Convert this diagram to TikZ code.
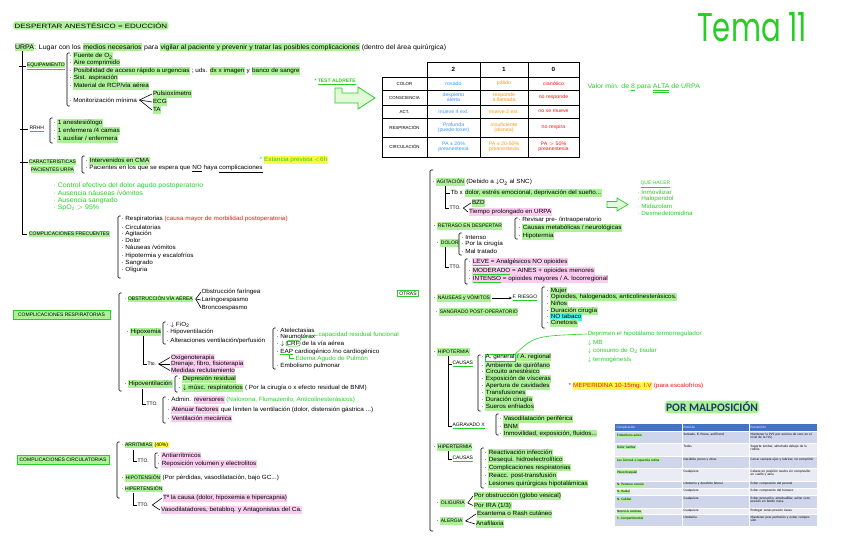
\documentclass[tikz,border=0pt]{standalone}
\usepackage{fontspec}
\setmainfont{Liberation Sans}[FakeStretch=1.06]
\newfontfamily\upfont{Liberation Sans}
\newfontfamily\temafont{Poppins}
\newfontfamily\tabfont{Carlito}
\usetikzlibrary{arrows.meta}
\definecolor{hlg}{RGB}{172,240,152}
\definecolor{hlp}{RGB}{250,205,240}
\definecolor{hly}{RGB}{255,248,70}
\definecolor{hlc}{RGB}{70,240,235}
\definecolor{tg}{RGB}{40,205,40}
\definecolor{tb}{RGB}{60,150,255}
\definecolor{to}{RGB}{255,150,20}
\definecolor{tr}{RGB}{250,20,20}
\definecolor{mbl}{RGB}{31,56,100}
\definecolor{thead}{RGB}{68,114,196}
\definecolor{trowa}{RGB}{207,213,234}
\definecolor{trowb}{RGB}{233,235,245}
\definecolor{arrfill}{RGB}{225,250,215}
\newcommand\myfs{\fontsize{6}{6.6}\selectfont}
\newcommand\myfu{\upfont\fontsize{5}{6}\selectfont}
\newcommand\myft{\tabfont\fontsize{3.4}{3.9}\selectfont}
\newcommand\hG[1]{{\setlength{\fboxsep}{0.5pt}\colorbox{hlg}{\vphantom{Ág}#1}}}
\newcommand\hP[1]{{\setlength{\fboxsep}{0.5pt}\colorbox{hlp}{\vphantom{Ág}#1}}}
\newcommand\hY[1]{{\setlength{\fboxsep}{0.5pt}\colorbox{hly}{\vphantom{Ág}#1}}}
\newcommand\hC[1]{{\setlength{\fboxsep}{0.5pt}\colorbox{hlc}{\vphantom{Ág}#1}}}
\newcommand\hGu[1]{\hG{\myfu #1}}
\newcommand\gul[1]{{\color{tg}\underline{\textcolor{black}{#1}}}}
\newcommand\mydn{$\downarrow$}
\newcommand\mybrk[3]{\draw[brkl] ({#1+2.5},#2) -- (#1,#2) -- (#1,#3) -- ({#1+2.5},#3);}
\begin{document}
\begin{tikzpicture}[x=1pt,y=-1pt,
  tx/.style={anchor=west,inner sep=0.3pt,font=\myfs},
  upt/.style={anchor=west,inner sep=0.3pt,font=\myfu},
  gtx/.style={tx,text=tg},
  ln/.style={line width=0.6pt},
  brkl/.style={line width=0.6pt,rounded corners=1.2pt},
  gbox/.style={draw=tg,line width=0.9pt,inner sep=1.5pt,font=\myfu},
  cellt/.style={align=center,inner sep=0pt,font=\fontsize{5}{5.4}\selectfont},
  tcell/.style={anchor=north west,inner sep=0pt,text width=63pt,align=left,font=\myft},
]
\useasboundingbox (0,0) rectangle (848,549);
\fill[white] (0,0) rectangle (848,549);

% ---------- title and definition
\node[upt,fill=hlg,rounded corners=3pt,inner sep=1.5pt,font=\upfont\fontsize{6.2}{7}\selectfont] (title) at (13,25.5) {\scalebox{1.28}[1]{DESPERTAR ANESTÉSICO = EDUCCIÓN}};
\node[tx,font=\fontsize{6.6}{7}\selectfont] (urpa) at (14,47) {\hG{URPA}: Lugar con los \hG{medios necesarios} para \hG{vigilar al paciente y prevenir y tratar las posibles complicaciones} (dentro del área quirúrgica)};
\node[anchor=south west,inner sep=0pt,text=tg] (tema) at (697,42) {\resizebox{110pt}{29pt}{\temafont Tema 11}};

% ---------- left tree
\draw[ln] (22,51) -- (22,234) -- (27,234);
\draw[ln] (19,66) -- (26,66);
\draw[ln] (20,129) -- (28,129);
\draw[ln] (20,162) -- (28,162);
\node[upt] (equip) at (26,66) {\gul{\hG{EQUIPAMIENTO}}};
\mybrk{67}{53}{106}
\node[tx] (e1) at (69,56) {· \hG{Fuente de O\textsubscript{2}}};
\node[tx] (e2) at (69,62.5) {· \hG{Aire comprimido}};
\node[tx] (e3) at (69,71) {· \hG{Posibilidad de acceso rápido a urgencias} ; uds. \hG{dx x imagen} y \hG{banco de sangre}};
\node[tx] (e4) at (69,78) {· \hG{Sist. aspiración}};
\node[tx] (e5) at (69,86) {· \hG{Material de RCP/vía aérea}};
\node[tx] (e6) at (69,100) {· Monitorización mínima};
\node[tx] (pulsi) at (152,94) {\hG{Pulsioxímetro}};
\node[tx] (ecg) at (152,102) {\hG{ECG}};
\node[tx] (ta) at (152,110) {\hG{TA}};
\coordinate (m0) at ([xshift=2pt]e6.east);
\draw[ln] (pulsi.west) -- (m0) -- (ta.west);
\draw[ln] (m0) -- (ecg.west);

\node[upt] (rrhh) at (29,129) {\gul{RRHH}};
\mybrk{50}{118}{143}
\node[tx] (r1) at (53,123) {· \hG{1 anestesiólogo}};
\node[tx] (r2) at (53,131) {· \hG{1 enfermera /4 camas}};
\node[tx] (r3) at (53,139) {· \hG{1 auxiliar / enfermera}};

\node[upt] (carac) at (28,162) {\hG{CARACTERÍSTICAS}};
\node[upt] (pacu) at (30,169.5) {\hG{PACIENTES URPA}};
\mybrk{82}{156}{173}
\node[tx] (c1) at (85,161) {· \hG{Intervenidos en CMA}};
\node[tx] (c2) at (85,169) {· Pacientes en los que se espera que \underline{NO} haya \underline{complicaciones}};
\node[gtx] (estancia) at (259,160) {* \hY{Estancia prevista $<$6h}};

\node[gtx,font=\fontsize{6.6}{7}\selectfont] (g1) at (53,186) {· Control efectivo del dolor agudo postoperatorio};
\node[gtx,font=\fontsize{6.6}{7}\selectfont] (g2) at (53,193.5) {· Ausencia náuseas /vómitos};
\node[gtx,font=\fontsize{6.6}{7}\selectfont] (g3) at (53,200.5) {· Ausencia sangrado};
\node[gtx,font=\fontsize{6.6}{7}\selectfont] (g4) at (53,208) {· SpO\textsubscript{2} $>$ 95\%};

\node[upt] (cfrec) at (28,234) {\hG{COMPLICACIONES FRECUENTES}};
\mybrk{118}{216}{278}
\node[tx] (f1) at (121,219) {· Respiratorias \textcolor{tr}{(causa mayor de morbilidad postoperatoria)}};
\node[tx] (f2) at (121,227) {· Circulatorias};
\node[tx] (f3) at (121,234) {· Agitación};
\node[tx] (f4) at (121,240.5) {· Dolor};
\node[tx] (f5) at (121,247.5) {· Náuseas /vómitos};
\node[tx] (f6) at (121,256) {· Hipotermia y escalofríos};
\node[tx] (f7) at (121,263) {· Sangrado};
\node[tx] (f8) at (121,270) {· Oliguria};

% ---------- respiratory complications
\node[gbox,fill=hlg,minimum width=97pt,minimum height=9pt] (cresp) at (61.5,315) {COMPLICACIONES RESPIRATORIAS};
\mybrk{119}{293}{391}
\node[upt] (obst) at (124,299) {· \hGu{OBSTRUCCIÓN VÍA AÉREA}};
\node[tx] (o1) at (201,292) {Obstrucción faríngea};
\node[tx] (o2) at (201,300) {Laringoespasmo};
\node[tx] (o3) at (201,308) {Broncoespasmo};
\coordinate (m1) at ([xshift=2pt]obst.east);
\draw[ln] (o1.west) -- (m1) -- (o3.west);
\draw[ln] (m1) -- (o2.west);

\node[tx] (hipox) at (126,332) {· \hG{Hipoxemia}};
\mybrk{163}{322}{344}
\node[tx] (h1) at (166,325) {· \mydn\ FiO\textsubscript{2}};
\node[tx] (h2) at (166,332) {· Hipoventilación};
\node[tx] (h3) at (166,341) {· Alteraciones ventilación/perfusión};
\draw[ln] (143,336) -- (143,364) -- (147,364);
\node[upt] (tto0) at (147,364) {Tto.};
\coordinate (m2) at ([xshift=2pt]tto0.east);
\node[tx] (p1) at (170,357.5) {\hP{Oxigenoterapia}};
\node[tx] (p2) at (170,364) {\hP{Drenaje, fibro, fisioterapia}};
\node[tx] (p3) at (170,370.5) {\hP{Medidas reclutamiento}};
\draw[ln] (p1.west) -- (m2) -- (p3.west);
\draw[ln] (m2) -- (p2.west);

\mybrk{273}{328}{369}
\node[tx] (v1) at (276,330) {· Atelectasias};
\node[tx] (v2) at (276,336.5) {· Neumotórax};
\node[tx] (v3a) at (276,344) {· \mydn};
\node[anchor=base west,draw=tg,line width=0.6pt,rounded corners=2.5pt,inner sep=0.6pt,font=\myfs] (crf) at ([xshift=1pt]v3a.base east) {CRF};
\node[anchor=base west,inner sep=0.3pt,font=\myfs] (v3b) at ([xshift=1pt]crf.base east) {de la vía aérea};
\node[gtx] (crftxt) at (318,335) {capacidad residual funcional};
\draw[tg,line width=0.6pt] (crf.north east) .. controls (300,337) .. (crftxt.west);
\node[tx] (v4) at (276,352) {· {\color{tg}\underline{\textcolor{black}{EAP}}} cardiogénico /no cardiogénico};
\draw[tg,line width=0.6pt] (289,354.5) -- (289,358.5) -- (294,358.5);
\node[gtx] (eap) at (295,358.5) {Edema Agudo de Pulmón};
\node[tx] (v5) at (276,366) {· Embolismo pulmonar};

\node[tx] (hipov) at (124,384) {· \hG{Hipoventilación}};
\mybrk{175}{376}{392}
\node[tx] (hv1) at (178,379) {· \hG{Depresión residual}};
\node[tx] (hv2) at (178,388) {· \hG{\mydn\ músc. respiratorios} ( Por la cirugía o x efecto residual de BNM)};
\draw[ln] (142,389) -- (142,404) -- (146,404);
\node[upt] (tto2) at (146,404) {TTO.};
\mybrk{163}{397}{423}
\node[tx] (t1) at (167,400) {· Admin. \hP{reversores} \textcolor{tg}{(Naloxona, Flumazenilo, Anticolinesterásicos)}};
\node[tx] (t2) at (167,410) {· \hP{Atenuar factores} que limiten la ventilación (dolor, distensión gástrica ...)};
\node[tx] (t3) at (167,418.5) {· \hP{Ventilación mecánica}};

% ---------- circulatory complications
\node[gbox,fill=hlg,minimum width=92pt,minimum height=9pt] (ccirc) at (63,459.5) {COMPLICACIONES CIRCULATORIAS};
\mybrk{117}{442}{498}
\node[upt] (arr) at (121,445) {· \hGu{ARRITMIAS} \hY{(40\%)}};
\draw[ln] (133,450) -- (133,461) -- (137,461);
\node[upt] (tto3) at (137,461) {TTO.};
\mybrk{155}{453}{468}
\node[tx] (ar1) at (157,456) {· \hP{Antiarrítmicos}};
\node[tx] (ar2) at (157,464) {· \hP{Reposición volumen y electrolitos}};
\node[tx] (hipot) at (121,478) {· \hGu{HIPOTENSIÓN} (Por pérdidas, vasodilatación, bajo GC...)};
\node[upt] (hipert) at (121,489) {· \hGu{HIPERTENSIÓN}};
\draw[ln] (133,493) -- (133,505) -- (137,505);
\node[upt] (tto4) at (137,505) {TTO.};
\coordinate (m3) at ([xshift=3pt]tto4.east);
\node[tx] (ht1) at (162,498) {\hP{Tº la causa (dolor, hipoxemia e hipercapnia)}};
\node[tx] (ht2) at (160,510) {\hP{Vasodilatadores, betabloq. y Antagonistas del Ca.}};
\draw[ln] (ht1.west) -- (m3) -- (ht2.west);

% ---------- OTRAS
\node[gbox,fill=white] (otras) at (408,293.5) {OTRAS};
\draw[brkl] (433,170) -- (430,170) -- (430,531) -- (433,531);

\node[tx] (agit) at (432,182) {· \hGu{AGITACIÓN} (Debido a \mydn O\textsubscript{2} al SNC)};
\draw[ln] (445,186) -- (445,208) -- (449,208);
\draw[ln] (445,193) -- (450,193);
\node[tx] (tbx) at (450,193) {Tb x \hG{dolor, estrés emocional, deprivación del sueño...}};
\node[upt] (tto5) at (449,208) {TTO.};
\coordinate (m4) at ([xshift=2pt]tto5.east);
\node[tx] (bzd) at (471,203) {\hG{BZD}};
\node[tx] (tprol) at (468,212) {\hP{Tiempo prolongado en URPA}};
\draw[ln] (bzd.west) -- (m4) -- (tprol.west);
\draw[tg,line width=0.7pt,fill=arrfill] (607,201.5) -- (617,201.5) -- (617,198) -- (628,204.5) -- (617,211) -- (617,207.5) -- (607,207.5) -- cycle;
\node[gtx,font=\myfu] (que) at (640,184) {\underline{QUÉ HACER}};
\node[gtx] (q1) at (637,192) {· Inmovilizar};
\node[gtx] (q2) at (637,199) {· Haloperidol};
\node[gtx] (q3) at (637,206) {· Midazolam};
\node[gtx] (q4) at (637,213) {· Dexmedetomidina};

\node[tx] (retr) at (433,226) {· \hGu{RETRASO EN DESPERTAR}};
\mybrk{515}{218}{239}
\node[tx] (re1) at (518,220) {· Revisar pre- /intraoperatorio};
\node[tx] (re2) at (518,228) {· \hG{Causas metabólicas / neurológicas}};
\node[tx] (re3) at (518,236) {· \hG{Hipotermia}};

\node[tx] (dolor) at (436,243) {· \hGu{DOLOR}};
\mybrk{459}{233}{255}
\node[tx] (d1) at (461,237) {· Intenso};
\node[tx] (d2) at (461,244) {· Por la cirugía};
\node[tx] (d3) at (461,251) {· Mal tratado};
\draw[ln] (445,247) -- (445,267) -- (449,267);
\node[upt] (tto6) at (449,267) {TTO.};
\mybrk{465}{259}{284}
\node[tx] (dl1) at (468,262) {· \hP{\gul{LEVE} = Analgésicos NO opioides}};
\node[tx] (dl2) at (468,271) {· \hP{\gul{MODERADO} = AINES + opioides menores}};
\node[tx] (dl3) at (468,279) {· \hP{\gul{INTENSO} = opioides mayores / A. locorregional}};

\node[tx] (nau) at (433,298) {· \hGu{NÁUSEAS y VÓMITOS}};
\node[upt] (fries) at (512,298) {\gul{F. RIESGO}};
\draw[ln,-{Stealth[length=3pt,width=2.5pt]}] ([xshift=1pt]nau.east) -- (fries.west);
\mybrk{542}{287}{328}
\node[tx] (n1) at (546,290.5) {· \hG{Mujer}};
\node[tx] (n2) at (546,297) {· \hG{Opioides, halogenados, anticolinesterásicos.}};
\node[tx] (n3) at (546,304) {· \hG{Niños}};
\node[tx] (n4) at (546,311) {· \hG{Duración cirugía}};
\node[tx] (n5) at (546,317) {· \hC{NO tabaco}};
\node[tx] (n6) at (546,323) {· \hG{Cinetosis}};
\node[tx] (sang) at (435,312) {· \hGu{SANGRADO POST-OPERATORIO}};

\node[tx] (hipo) at (433,352) {· \hGu{HIPOTERMIA}};
\draw[ln] (448,356) -- (448,426) -- (452,426);
\draw[ln] (448,364) -- (452,364);
\node[upt] (caus1) at (452,364) {\gul{CAUSAS}};
\mybrk{478}{355}{411}
\node[tx] (hc1a) at (481,358) {·};
\node[anchor=base west,draw=tg,line width=0.6pt,inner sep=0.6pt,font=\myfs] (agen) at ([xshift=0.5pt]hc1a.base east) {A. general};
\node[anchor=base west,inner sep=0.3pt,font=\myfs] (hc1b) at ([xshift=0.5pt]agen.base east) {\hG{/ A. regional}};
\node[tx] (hc2) at (481,365.5) {· \hG{Ambiente de quirófano}};
\node[tx] (hc3) at (481,372) {· \hG{Circuito anestésico}};
\node[tx] (hc4) at (481,379) {· \hG{Exposición de vísceras}};
\node[tx] (hc5) at (481,386) {· \hG{Apertura de cavidades}};
\node[tx] (hc6) at (481,393) {· \hG{Transfusiones}};
\node[tx] (hc7) at (481,400) {· \hG{Duración cirugía}};
\node[tx] (hc8) at (481,407) {· \hG{Sueros enfriados}};
\node[gtx] (dep) at (587,334) {Deprimen el hipotálamo termorregulador};
\node[gtx] (dep2) at (587,343) {\mydn\ MB};
\node[gtx] (dep3) at (587,351) {\mydn\ consumo de O\textsubscript{2} tisular};
\node[gtx] (dep4) at (587,360) {\mydn\ termogénesis};
\draw[tg,line width=0.6pt] (agen.north east) .. controls (535,336) .. (dep.west);
\node[tx,text=tr] (mep) at (568,386) {* \hY{MEPERIDINA 10-15mg. I.V} (para escalofríos)};

\node[upt] (agrav) at (452,426) {\gul{AGRAVADO X}};
\mybrk{496}{414}{435}
\node[tx] (ag1) at (499,419) {· \hG{Vasodilatación periférica}};
\node[tx] (ag2) at (499,426.5) {· \hG{BNM}};
\node[tx] (ag3) at (499,433.5) {· \hG{Inmovilidad, exposición, fluidos...}};

\node[tx] (hiper) at (433,447) {· \hGu{HIPERTERMIA}};
\draw[ln] (448,451) -- (448,459) -- (452,459);
\node[upt] (caus2) at (452,459) {\gul{CAUSAS}};
\mybrk{481}{448}{488}
\node[tx] (hp1) at (484,453) {· \hG{Reactivación infección}};
\node[tx] (hp2) at (484,459.5) {· \hG{Desequi. hidroelectrolítico}};
\node[tx] (hp3) at (484,467.5) {· \hG{Complicaciones respiratorias}};
\node[tx] (hp4) at (484,476) {· \hG{Reacc. post-transfusión}};
\node[tx] (hp5) at (484,484) {· \hG{Lesiones quirúrgicas hipotalámicas}};

\node[tx] (olig) at (436,503) {· \hGu{OLIGURIA}};
\coordinate (m5) at ([xshift=2pt]olig.east);
\node[tx] (ol1) at (473,496) {\hG{Por obstrucción (globo vesical)}};
\node[tx] (ol2) at (473,505.5) {\hG{Por IRA (1/3)}};
\draw[ln] (ol1.west) -- (m5) -- (ol2.west);
\node[tx] (aler) at (436,521) {· \hGu{ALERGIA}};
\coordinate (m6) at ([xshift=2pt]aler.east);
\node[tx] (al1) at (476,514) {\hG{Exantema o Rash cutáneo}};
\node[tx] (al2) at (475,524) {\hG{Anafilaxia}};
\draw[ln] (al1.west) -- (m6) -- (al2.west);

% ---------- Aldrete test
\node[gtx,font=\bfseries\myfu] (aldrete) at (314,82) {* \underline{TEST ALDRETE}};
\draw[tg,line width=0.8pt,fill=arrfill] (335,88) -- (342,88) -- (342,93) -- (358,93) -- (358,87) -- (375,98) -- (358,109) -- (358,103) -- (335,103) -- cycle;
\begin{scope}[line width=0.9pt]
\draw (427,62) -- (579,62) -- (579,77);
\draw (382,77) rectangle (579,157);
\foreach \xx in {427,480,528} \draw (\xx,62) -- (\xx,157);
\foreach \yy in {90,105,118,137} \draw (382,\yy) -- (579,\yy);
\end{scope}
\node[cellt,font=\bfseries\myfs] (h2) at (453.5,69.5) {2};
\node[cellt,font=\bfseries\myfs] (h1) at (504,69.5) {1};
\node[cellt,font=\bfseries\myfs] (h0) at (553.5,69.5) {0};
\node[cellt,font=\upfont\fontsize{4.4}{5}\selectfont] (l1) at (404.5,83.5) {COLOR};
\node[cellt,font=\upfont\fontsize{4.4}{5}\selectfont] (l2) at (404.5,97.5) {CONSCIENCIA};
\node[cellt,font=\upfont\fontsize{4.4}{5}\selectfont] (l3) at (404.5,111.5) {ACT.};
\node[cellt,font=\upfont\fontsize{4.4}{5}\selectfont] (l4) at (404.5,127.5) {RESPIRACIÓN};
\node[cellt,font=\upfont\fontsize{4.4}{5}\selectfont] (l5) at (404.5,147) {CIRCULACIÓN};
\node[cellt,text=tb] (b1) at (453.5,83.5) {rosado};
\node[cellt,text=tb] (b2) at (453.5,97.5) {despierto\\alerta};
\node[cellt,text=tb] (b3) at (453.5,111.5) {mueve 4 ext.};
\node[cellt,text=tb] (b4) at (453.5,127.5) {Profunda\\(puede toser)};
\node[cellt,text=tb] (b5) at (453.5,147) {PA ± 20\%\\preanestesia};
\node[cellt,text=to] (o1c) at (504,83.5) {pálido};
\node[cellt,text=to] (o2c) at (504,97.5) {responde\\a llamada};
\node[cellt,text=to] (o3c) at (504,111.5) {mueve 2 ext.};
\node[cellt,text=to] (o4c) at (504,127.5) {insuficiente\\(disnea)};
\node[cellt,text=to] (o5c) at (504,147) {PA ± 20-50\%\\preanestesia};
\node[cellt,text=tr] (r1c) at (553.5,83.5) {cianótico};
\node[cellt,text=tr] (r2c) at (553.5,97.5) {no responde};
\node[cellt,text=tr] (r3c) at (553.5,111.5) {no se mueve};
\node[cellt,text=tr] (r4c) at (553.5,127.5) {no respira};
\node[cellt,text=tr] (r5c) at (553.5,147) {PA $>$ 50\%\\preanestesia};
\node[gtx,font=\fontsize{6.6}{7}\selectfont] (valor) at (587,88) {Valor mín. de \underline{8} para $\underline{\underline{\hbox{ALTA}}}$ de URPA};

% ---------- Malposicion table
\node[anchor=center,inner sep=1.5pt,fill=hlg,rounded corners=4pt,text=mbl,font=\tabfont\bfseries\fontsize{11.5}{12}\selectfont] (malpos) at (712,407) {POR MALPOSICIÓN};
\fill[thead] (615,424) rectangle (817,431);
\fill[trowa] (615,431) rectangle (817,443);
\fill[trowb] (615,443) rectangle (817,456);
\fill[trowa] (615,456) rectangle (817,468);
\fill[trowb] (615,468) rectangle (817,481);
\fill[trowa] (615,481) rectangle (817,488);
\fill[trowb] (615,488) rectangle (817,495);
\fill[trowa] (615,495) rectangle (817,508);
\fill[trowb] (615,508) rectangle (817,514);
\fill[trowa] (615,514) rectangle (817,526);
\foreach \yy in {431,443,456,468,481,488,495,508,514} \draw[white,line width=0.4pt] (615,\yy) -- (817,\yy);
\foreach \xx in {682,749} \draw[white,line width=0.4pt] (\xx,424) -- (\xx,526);
\node[tcell,text=white] (th1) at (616.5,425.5) {Complicación};
\node[tcell,text=white] (th2) at (683.5,425.5) {Posición};
\node[tcell,text=white] (th3) at (750.5,425.5) {Prevención};
\node[tcell] (a1) at (616.5,432.5) {\hG{Embolismo aéreo}};
\node[tcell] (a2) at (683.5,432.5) {Sentado, Ei Prono, antiTrend};
\node[tcell] (a3) at (750.5,432.5) {Mantener la PVC por encima de cero en el nivel de la H.Q.};
\node[tcell] (b1t) at (616.5,444.5) {\hG{Dolor lumbar}};
\node[tcell] (b2t) at (683.5,444.5) {Todas};
\node[tcell] (b3t) at (750.5,444.5) {Soporte lumbar, almohada debajo de la rodilla};
\node[tcell] (c1t) at (616.5,457.5) {\hG{Les Corneal o isquemia retina}};
\node[tcell] (c2t) at (683.5,457.5) {Decúbito prono y otras};
\node[tcell] (c3t) at (750.5,457.5) {Cerrar siempre ojos y lubricar, no comprimir};
\node[tcell] (d1t) at (616.5,469.5) {\hG{Plexo braquial}};
\node[tcell] (d2t) at (683.5,469.5) {Cualquiera};
\node[tcell] (d3t) at (750.5,469.5) {Cabeza en posición neutra sin compresión en cuello y axila};
\node[tcell] (e1t) at (616.5,482.3) {\hG{N. Peroneo común}};
\node[tcell] (e2t) at (683.5,482.3) {Litotomía y decúbito lateral};
\node[tcell] (e3t) at (750.5,482.3) {Evitar compresión del peroné};
\node[tcell] (f1t) at (616.5,489.3) {\hG{N. Radial}};
\node[tcell] (f2t) at (683.5,489.3) {Cualquiera};
\node[tcell] (f3t) at (750.5,489.3) {Evitar compresión del húmero};
\node[tcell] (g1t) at (616.5,496.5) {\hG{N. Cubital}};
\node[tcell] (g2t) at (683.5,496.5) {Cualquiera};
\node[tcell] (g3t) at (750.5,496.5) {Evitar pronación, almohadillar, evitar compresión en borde mesa};
\node[tcell] (h1t) at (616.5,509.3) {\hG{Necrosis cutánea}};
\node[tcell] (h2t) at (683.5,509.3) {Cualquiera};
\node[tcell] (h3t) at (750.5,509.3) {Proteger zonas presión óseas};
\node[tcell] (i1t) at (616.5,515.5) {\hG{S. Compartimental}};
\node[tcell] (i2t) at (683.5,515.5) {Litotomía};
\node[tcell] (i3t) at (750.5,515.5) {Mantener pres perfusión y evitar compresión};
\end{tikzpicture}
\end{document}
